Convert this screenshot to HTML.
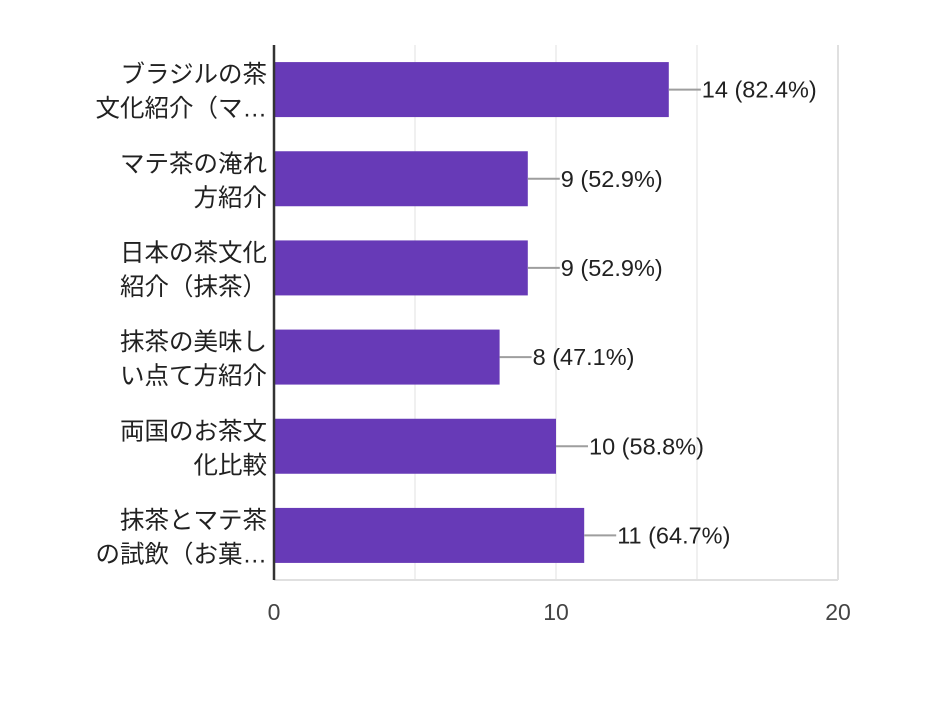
<!DOCTYPE html>
<html><head><meta charset="utf-8"><style>
body{margin:0;background:#fff;}
svg text{font-family:"Liberation Sans","Noto Sans CJK JP",sans-serif;}
</style></head><body>
<svg id="chart" width="947" height="718" viewBox="0 0 947 718" xmlns="http://www.w3.org/2000/svg"></svg>
<script>
const categories = [["ブラジルの茶","文化紹介（マ…"],["マテ茶の淹れ","方紹介"],["日本の茶文化","紹介（抹茶）"],["抹茶の美味し","い点て方紹介"],["両国のお茶文","化比較"],["抹茶とマテ茶","の試飲（お菓…"]];
const values = [14, 9, 9, 8, 10, 11];
const percents = ["82.4%","52.9%","52.9%","47.1%","58.8%","64.7%"];
const ticks = [0, 10, 20];
const gridTicks = [5, 10, 15, 20];

const svgEl = document.getElementById('chart');
const NS = 'http://www.w3.org/2000/svg';
const X0 = 274, X1 = 838, plotTop = 45, plotBottom = 580, xMax = 20;
const xs = v => X0 + (X1 - X0) * v / xMax;
const band = (plotBottom - plotTop) / categories.length;
const yc = i => plotTop + band * (i + 0.5);
const barH = 55;
function mk(tag, attrs){const e=document.createElementNS(NS,tag);for(const k in attrs)e.setAttribute(k,attrs[k]);svgEl.appendChild(e);return e;}

gridTicks.forEach(t=>{
  const g = mk('line',{x1:xs(t),x2:xs(t),y1:plotTop,y2:plotBottom,stroke:t===20?'#e0e0e0':'#f0f0f0','stroke-width':2});
  
  
});
const hb = mk('line',{x1:X0,x2:X1,y1:plotBottom,y2:plotBottom,stroke:'#e0e0e0','stroke-width':2});



values.forEach((v,i)=>{
  const c = yc(i);
  const r = mk('rect',{x:X0,y:c-barH/2,width:xs(v)-X0,height:barH,fill:'#673ab7'});
  
  
  const l = mk('line',{x1:xs(v),x2:xs(v)+32,y1:c,y2:c,stroke:'#9e9e9e','stroke-width':2});
  
  
  const t = mk('text',{x:xs(v)+33,y:c+8,'font-size':23.5,fill:'#212121'});
  t.textContent = v + ' (' + percents[i] + ')';
  
  
  categories[i].forEach((s,j)=>{
    const ct = mk('text',{x:267,y:c-7+j*34,'font-size':24.5,fill:'#212121','text-anchor':'end'});
    ct.textContent = s;
    
    
  });
});

const ax = mk('line',{x1:X0,x2:X0,y1:plotTop,y2:plotBottom,stroke:'#333','stroke-width':2.5});



ticks.forEach(t=>{
  const tt = mk('text',{x:xs(t),y:620,'font-size':23,fill:'#444','text-anchor':'middle'});
  tt.textContent = t;
  
  
});
</script>
</body></html>
